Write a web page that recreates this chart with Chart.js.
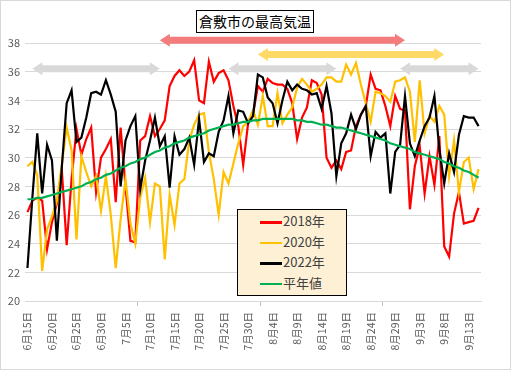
<!DOCTYPE html>
<html><head><meta charset="utf-8">
<script src="https://cdn.jsdelivr.net/npm/chart.js@4.4.1/dist/chart.umd.min.js"></script>
<style>
html,body{margin:0;padding:0;background:#fff;}
#wrap{position:relative;width:511px;height:370px;overflow:hidden;}
#frame{position:absolute;left:0;top:0;width:511px;height:370px;box-sizing:border-box;border:1px solid #d9d9d9;pointer-events:none;}
#title{position:absolute;left:196px;top:10px;width:118px;height:23px;box-sizing:border-box;border:1px solid #000;background:#fff;font:14px "Noto Sans CJK JP";line-height:21px;text-align:center;color:#000;}
#legend{position:absolute;left:237px;top:209px;width:110px;height:87px;box-sizing:border-box;border:1.5px solid #000;background:#FDF0D5;font:13px "Noto Sans CJK JP";color:#404040;}
.row{position:absolute;left:22px;height:20px;line-height:20px;white-space:nowrap;}
.sw{display:inline-block;width:22px;height:2.5px;vertical-align:middle;margin-right:1px;}
</style></head>
<body>
<div id="wrap">
<canvas id="c" width="511" height="370"></canvas>
<div id="title">倉敷市の最高気温</div>
<div id="legend"></div>
<div id="frame"></div>
</div>
<script>
// ---- data ----
const startMonth = 6, startDay = 15, dayCount = 93;
const monthLengths = {6:30, 7:31, 8:31, 9:30};
const labels = [];
(function(){ let m = startMonth, d = startDay;
  for (let i = 0; i < dayCount; i++) { labels.push(m + '月' + d + '日'); d++; if (d > monthLengths[m]) { d = 1; m++; } } })();

const seriesNames = ['2018年', '2020年', '2022年', '平年値'];

const t2018 = [26.2,27.0,27.2,27.0,23.6,25.5,26.8,29.2,23.9,28.5,
  32.0,30.2,31.3,32.1,27.6,30.0,30.6,31.3,26.9,32.1,
  28.0,24.2,24.1,31.2,31.5,32.9,31.5,32.0,32.6,35.0,
  35.7,36.1,35.7,36.0,36.8,34.0,33.8,36.7,35.3,35.9,
  36.1,35.4,33.6,32.2,29.5,32.4,33.0,35.0,34.6,35.5,
  35.2,35.1,35.1,34.8,33.8,31.3,32.8,33.5,35.4,35.2,
  34.4,30.0,29.3,29.8,29.2,30.4,30.5,32.2,33.0,33.6,
  35.8,34.8,34.7,33.6,32.2,34.3,33.4,33.3,26.4,29.4,
  30.8,27.5,30.1,28.1,31.5,23.8,23.1,26.1,27.6,25.4,
  25.5,25.6,26.5];

const t2020 = [29.4,29.7,28.8,22.1,25.0,25.9,27.0,29.5,32.1,30.5,
  24.3,30.1,29.0,28.0,28.7,26.3,28.7,26.0,22.3,25.7,
  28.5,25.4,24.0,27.2,28.6,25.5,28.2,28.0,22.9,27.4,
  25.3,28.2,28.5,31.2,32.3,33.0,33.1,30.4,28.5,26.0,
  29.0,28.2,29.6,31.0,32.2,32.5,33.3,32.3,34.3,32.2,
  32.2,34.5,32.4,33.0,33.5,34.9,35.5,35.1,34.6,34.8,
  35.1,35.6,35.6,35.3,35.3,36.5,35.8,36.6,35.1,33.8,
  32.5,34.6,34.5,34.3,33.9,35.3,35.4,35.6,34.6,31.1,
  35.4,31.7,32.9,32.5,33.6,33.0,28.7,31.2,27.6,29.7,
  30.0,27.8,29.2];

const t2022 = [22.3,27.2,31.7,27.5,30.9,29.8,24.2,29.3,33.8,34.7,
  31.1,31.4,32.8,34.5,34.6,34.4,35.4,34.4,33.2,28.0,
  31.2,32.2,32.9,27.8,29.8,31.2,32.8,30.8,31.5,27.9,
  31.5,30.2,30.6,31.4,29.5,32.7,29.7,30.3,30.1,31.8,
  32.6,34.3,31.7,33.3,33.2,32.4,32.9,35.8,35.6,34.2,
  33.8,32.4,34.0,35.3,34.7,35.1,34.8,34.7,34.4,34.5,
  33.4,35.0,33.1,28.7,31.0,31.7,33.0,32.0,33.0,33.6,
  30.1,31.8,31.4,31.7,27.5,30.4,30.9,34.3,31.0,30.1,
  31.2,32.2,32.8,34.3,30.6,28.2,30.3,29.0,31.6,32.9,
  32.8,32.8,32.2];

const tNormal = [27.1,27.1,27.2,27.2,27.3,27.4,27.5,27.6,27.7,27.8,
  27.9,28.0,28.2,28.3,28.5,28.6,28.8,28.9,29.1,29.3,
  29.4,29.6,29.7,29.9,30.0,30.2,30.4,30.5,30.7,30.8,
  31.0,31.1,31.2,31.4,31.5,31.6,31.7,31.9,32.0,32.1,
  32.2,32.3,32.3,32.4,32.5,32.5,32.6,32.6,32.7,32.7,
  32.7,32.7,32.7,32.7,32.7,32.6,32.6,32.5,32.5,32.4,
  32.3,32.3,32.2,32.1,32.1,32.0,31.9,31.8,31.7,31.6,
  31.5,31.4,31.3,31.2,31.0,30.9,30.8,30.7,30.6,30.4,
  30.3,30.2,30.1,30.0,29.9,29.7,29.6,29.4,29.3,29.1,
  29.0,28.8,28.6];

const yTicks = [20,22,24,26,28,30,32,34,36,38];

// period arrows (start date, end date, level in °C)
const periodStart = ['7月12日', '8月1日', '6月16日', '7月26日', '8月30日'];
const periodEnd   = ['8月31日', '9月8日', '7月12日', '8月17日', '9月15日'];
const periodLevel = [38.2, 37.2, 36.2, 36.2, 36.2];
const periodColor = ['#F47C7C', '#FFD966', '#D9D9D9', '#D9D9D9', '#D9D9D9'];

const colors = ['#FF0000', '#FFC000', '#000000', '#00B050'];
const values = [t2018, t2020, t2022, tNormal];

// legend
const lg = document.getElementById('legend');
seriesNames.forEach((n, i) => {
  const r = document.createElement('div');
  r.className = 'row';
  r.style.top = (1 + i * 20.5) + 'px';
  r.innerHTML = '<span class="sw" style="background:' + colors[i] + '"></span>' + n;
  lg.appendChild(r);
});

const arrowPlugin = {
  id: 'arrows',
  afterDatasetsDraw(chart) {
    const ctx = chart.ctx, xs = chart.scales.x, ys = chart.scales.y;
    ctx.save();
    for (let i = 0; i < periodStart.length; i++) {
      const x1 = xs.getPixelForValue(labels.indexOf(periodStart[i]));
      const x2 = xs.getPixelForValue(labels.indexOf(periodEnd[i]));
      const y = ys.getPixelForValue(periodLevel[i]);
      const sh = 3.5, hw = 6.5, hl = 10;
      ctx.fillStyle = periodColor[i];
      ctx.beginPath();
      ctx.moveTo(x1, y);
      ctx.lineTo(x1 + hl, y - hw);
      ctx.lineTo(x1 + hl, y - sh);
      ctx.lineTo(x2 - hl, y - sh);
      ctx.lineTo(x2 - hl, y - hw);
      ctx.lineTo(x2, y);
      ctx.lineTo(x2 - hl, y + hw);
      ctx.lineTo(x2 - hl, y + sh);
      ctx.lineTo(x1 + hl, y + sh);
      ctx.lineTo(x1 + hl, y + hw);
      ctx.closePath();
      ctx.fill();
    }
    ctx.restore();
  }
};

const font = {family: '"Noto Sans CJK JP"', size: 11};

new Chart(document.getElementById('c'), {
  type: 'line',
  data: {
    labels: labels,
    datasets: seriesNames.map((n, i) => ({
      label: n,
      data: values[i],
      borderColor: colors[i],
      backgroundColor: colors[i],
      borderWidth: 2.2,
      pointRadius: 0,
      tension: 0,
      order: 4 - i
    }))
  },
  options: {
    responsive: false,
    animation: false,
    layout: {padding: {top: 43, right: 30, left: 0, bottom: 0}},
    plugins: {legend: {display: false}, tooltip: {enabled: false}, title: {display: false}},
    scales: {
      x: {
        offset: true,
        afterFit(s) { s.height = 69; },
        grid: {
          offset: true,
          drawOnChartArea: false,
          tickLength: 5,
          color: (c) => (c.index % 5 === 0 ? '#BFBFBF' : 'rgba(0,0,0,0)'),
          tickColor: (c) => (c.index % 5 === 0 ? '#BFBFBF' : 'rgba(0,0,0,0)')
        },
        border: {display: true, color: '#D9D9D9'},
        ticks: {
          autoSkip: false,
          minRotation: 90,
          maxRotation: 90,
          padding: 6,
          color: '#595959',
          font: {family: '"Noto Sans CJK JP"', size: 10.5},
          callback: (v, i) => (i % 5 === 0 ? labels[i] : null)
        }
      },
      y: {
        min: 20, max: 38,
        afterFit(s) { s.width = 25; },
        afterBuildTicks(s) { s.ticks = yTicks.map(v => ({value: v})); },
        grid: {color: '#D9D9D9', drawTicks: false},
        border: {display: false},
        ticks: {padding: 5, color: '#595959', font: font}
      }
    }
  },
  plugins: [arrowPlugin]
});
</script>
</body></html>
